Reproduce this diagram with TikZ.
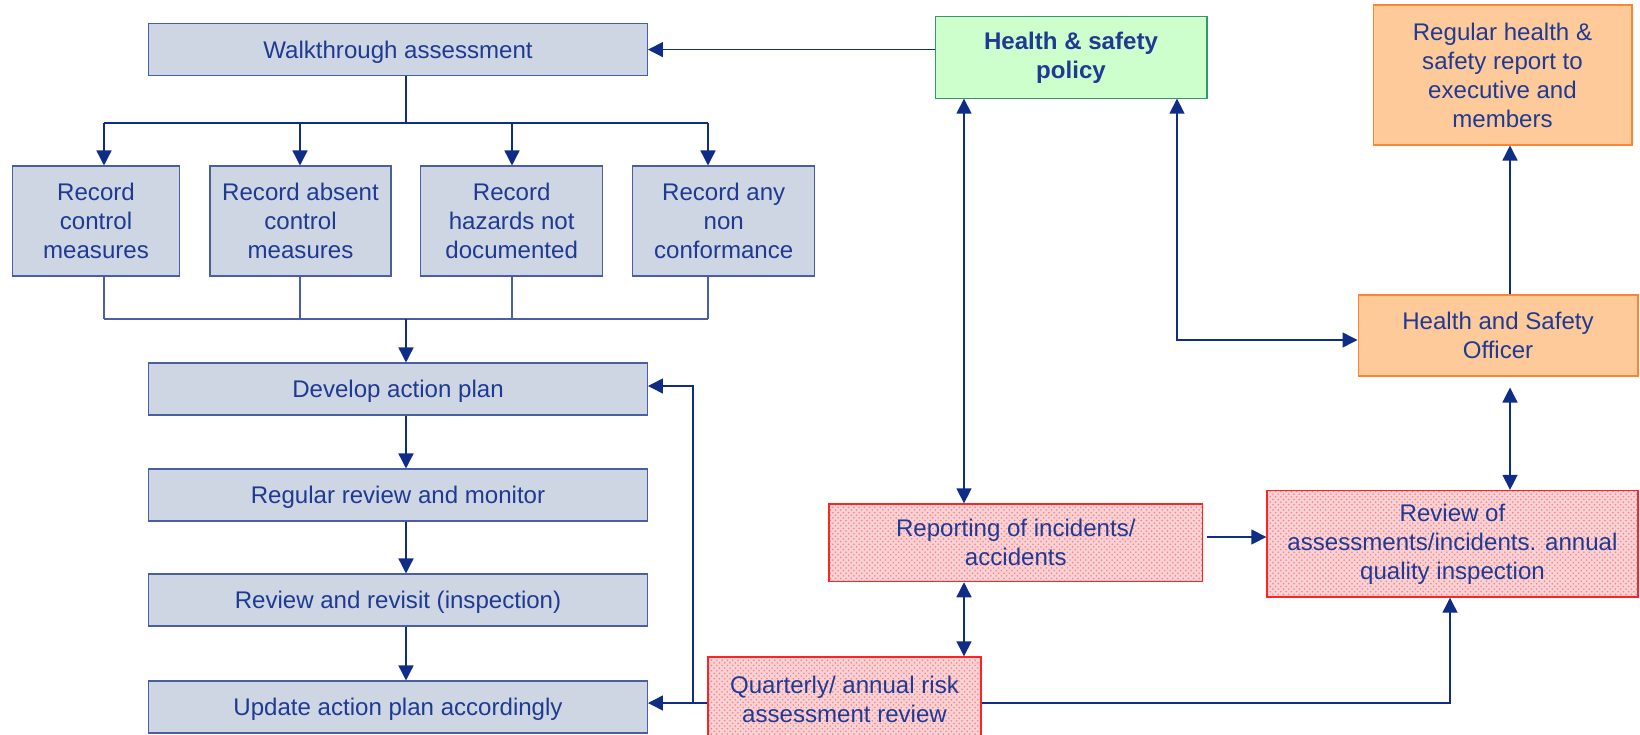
\documentclass[tikz,border=0pt]{standalone}
\usepackage{fontspec}
\setmainfont{Liberation Sans}
\usepackage[dvipsnames,table]{xcolor}
\usepackage{tikz}
\usetikzlibrary{arrows.meta,patterns}

\definecolor{navytext}{HTML}{1F3A93}
\definecolor{navyline}{HTML}{0F2D86}
\definecolor{greyfill}{HTML}{CDD6E2}
\definecolor{greyedge}{HTML}{4A5FA3}
\definecolor{greenfill}{HTML}{CCFFCC}
\definecolor{greenedge}{HTML}{33996A}
\definecolor{orangefill}{HTML}{FFCA99}
\definecolor{orangeedge}{HTML}{FF8430}
\definecolor{redfill}{HTML}{F9D2D6}
\definecolor{rededge}{HTML}{FF2424}

\tikzset{
  basebox/.style={rectangle,inner sep=0pt,align=center,text=navytext,
    font=\fontsize{13.7}{16.5}\selectfont,line width=0.6pt},
  stepbox/.style={basebox,draw=greyedge,fill=greyfill},
  lower/.style={execute at begin node={\rule{0pt}{0.93em}}},
  policybox/.style={basebox,draw=greenedge,fill=greenfill,
    font=\fontsize{13.7}{16.5}\selectfont\bfseries},
  officerbox/.style={basebox,draw=orangeedge,fill=orangefill},
  reviewbox/.style={basebox,draw=rededge,line width=0.8pt,
    preaction={fill=redfill},
    preaction={pattern=crosshatch dots,pattern color=red!50}},
  link/.style={draw=greyedge,line width=0.7pt},
  arr/.style={draw=navyline,line width=0.8pt,
    -{Triangle[length=0.3cm,width=0.3cm]}},
  twoway/.style={draw=navyline,line width=0.8pt,
    {Triangle[length=0.3cm,width=0.3cm]}-{Triangle[length=0.3cm,width=0.3cm]}}
}

\begin{document}
\begin{tikzpicture}[x=0.02cm,y=-0.02cm]
    \clip (0,0) rectangle (1640,734);
    \fill[white] (0,0) rectangle (1640,734);

    % left column
    \node[stepbox,lower,minimum width=9.98cm,minimum height=1.04cm] (walk) at (398,49.6) {Walkthrough assessment};
    \node[stepbox,minimum width=3.33cm,minimum height=2.2cm] (rec1) at (96,221) {Record\\control\\measures};
    \node[stepbox,minimum width=3.62cm,minimum height=2.2cm] (rec2) at (300.5,221) {Record absent\\control\\measures};
    \node[stepbox,minimum width=3.64cm,minimum height=2.2cm] (rec3) at (511.7,221) {Record\\hazards not\\documented};
    \node[stepbox,minimum width=3.64cm,minimum height=2.2cm] (rec4) at (723.7,221) {Record any\\non\\conformance};
    \node[stepbox,lower,minimum width=9.98cm,minimum height=1.04cm] (dev) at (398,389) {Develop action plan};
    \node[stepbox,lower,minimum width=9.98cm,minimum height=1.04cm] (monitor) at (398,495) {Regular review and monitor};
    \node[stepbox,lower,minimum width=9.98cm,minimum height=1.04cm] (revisit) at (398,600) {Review and revisit (inspection)};
    \node[stepbox,lower,minimum width=9.98cm,minimum height=1.04cm] (update) at (398,707) {Update action plan accordingly};

    % right side
    \node[policybox,lower,minimum width=5.44cm,minimum height=1.63cm] (policy) at (1071,57.4) {Health \& safety\\policy};
    \node[officerbox,minimum width=5.18cm,minimum height=2.8cm] (report) at (1502.5,75) {Regular health \&\\safety report to\\executive and\\members};
    \node[officerbox,minimum width=5.6cm,minimum height=1.62cm] (officer) at (1498,335.5) {Health and Safety\\Officer};
    \node[reviewbox,minimum width=7.47cm,minimum height=1.55cm] (incident) at (1015.8,542.8) {Reporting of incidents/\\accidents};
    \node[reviewbox,lower,minimum width=7.42cm,minimum height=2.13cm] (annual) at (1452.5,543.8) {Review of\\assessments/incidents. annual\\quality inspection};
    \node[reviewbox,minimum width=5.46cm,minimum height=1.7cm] (quarter) at (844.5,699.5) {Quarterly/ annual risk\\assessment review};

    % helper points
    \coordinate (fork) at (406,123);
    \coordinate (d1) at (104,319);
    \coordinate (d2) at (300,319);
    \coordinate (d3) at (512,319);
    \coordinate (d4) at (708,319);
    \coordinate (v1) at (964,0);
    \coordinate (v2) at (1177,340);
    \coordinate (v3) at (1510,0);
    \coordinate (h1) at (1207,537);
    \coordinate (q1) at (1450,703);
    \coordinate (b1) at (693,703);
    \coordinate (b2) at (693,386);

    % walkthrough fan out
    \draw[navyline,line width=0.8pt] (fork |- walk.south) -- (fork);
    \draw[navyline,line width=0.8pt] (d1 |- fork) -- (d4 |- fork);
    \foreach \d/\r in {d1/rec1,d2/rec2,d3/rec3,d4/rec4} {
      \draw[arr] (\d |- fork) -- (\d |- \r.north);
      \draw[link] (\d |- \r.south) -- (\d);
    }
    \draw[link] (d1) -- (d4);
    \draw[arr] (fork |- d1) -- (fork |- dev.north);
    \draw[arr] (fork |- dev.south) -- (fork |- monitor.north);
    \draw[arr] (fork |- monitor.south) -- (fork |- revisit.north);
    \draw[arr] (fork |- revisit.south) -- (fork |- update.north);

    % policy links
    \draw[arr] (policy.west |- walk.east) -- (walk.east);
    \draw[twoway] (v1 |- policy.south) -- (v1 |- incident.north);
    \draw[twoway] (v2 |- policy.south) -- (v2) -- (officer.west |- v2);
    \draw[arr] (v3 |- officer.north) -- (v3 |- report.south);
    \draw[twoway,shorten <=0.22cm] (v3 |- officer.south) -- (v3 |- annual.north);
    \draw[arr] (h1) -- (h1 -| annual.west);
    \draw[twoway] (v1 |- incident.south) -- (v1 |- quarter.north);

    % quarterly review outputs
    \draw[arr] (quarter.east |- q1) -- (q1) -- (q1 |- annual.south);
    \draw[arr] (quarter.west |- b1) -- (update.east |- b1);
    \draw[arr] (b1) -- (b2) -- (dev.east |- b2);
\end{tikzpicture}
\end{document}
